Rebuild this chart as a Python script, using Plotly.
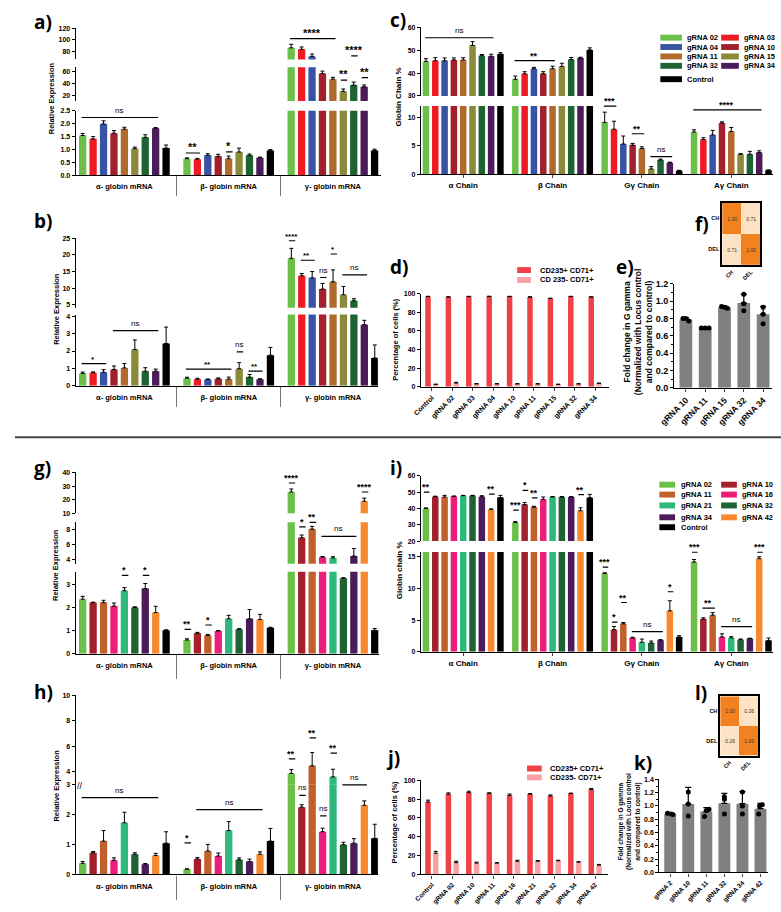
import plotly.graph_objects as go

W, H = 781, 912
FONT = "Liberation Sans"

# ---------------- data ----------------
set1_names = ["gRNA 02", "gRNA 03", "gRNA 04", "gRNA 10", "gRNA 11", "gRNA 15", "gRNA 32", "gRNA 34", "Control"]
set1_colors = ["#6cc04a", "#ed1c24", "#3953a4", "#a3202d", "#b06a2c", "#8a8a3a", "#1e6432", "#4b1b5a", "#000000"]
set2_names = ["gRNA 02", "gRNA 10", "gRNA 11", "gRNA 16", "gRNA 21", "gRNA 32", "gRNA 34", "gRNA 42", "Control"]
set2_colors = ["#6cc04a", "#a3202d", "#c0612b", "#ec1e7a", "#2db87c", "#1e6432", "#4b1b5a", "#f7892e", "#000000"]
mrna_labels = ["α- globin mRNA", "β- globin mRNA", "γ- globin mRNA"]
chain_labels = ["α Chain", "β Chain", "Gγ Chain", "Aγ Chain"]

# a) relative expression (rows: alpha, beta, gamma)
a_alpha = [1.54, 1.41, 1.99, 1.63, 1.79, 1.03, 1.47, 1.82, 1.05]
a_beta = [0.64, 0.62, 0.77, 0.73, 0.64, 0.90, 0.77, 0.68, 0.96]
a_gamma = [86.5, 84, 72, 56.7, 47.4, 27.1, 37.5, 34.8, 0.96]
a_alpha_err = [0.08, 0.09, 0.12, 0.10, 0.07, 0.06, 0.10, 0.03, 0.12]
a_beta_err = [0.03, 0.03, 0.06, 0.08, 0.10, 0.15, 0.05, 0.02, 0.03]
a_gamma_err = [6, 4, 4, 4, 3, 4, 5, 3, 0.05]

# b)
b_alpha = [0.71, 0.75, 0.78, 0.94, 1.03, 2.09, 0.84, 0.84, 2.43]
b_beta = [0.44, 0.38, 0.36, 0.40, 0.38, 0.98, 0.50, 0.38, 1.76]
b_gamma = [19.0, 13.7, 13.1, 9.7, 11.9, 8.0, 6.2, 3.52, 1.6]
b_alpha_err = [0.08, 0.05, 0.15, 0.20, 0.25, 0.55, 0.20, 0.12, 0.95]
b_beta_err = [0.05, 0.05, 0.03, 0.05, 0.12, 0.35, 0.15, 0.02, 0.45]
b_gamma_err = [3.0, 0.7, 1.9, 1.7, 3.6, 2.5, 0.6, 0.25, 0.75]

# c) globin chain %
c_alpha = [45.1, 45.4, 45.4, 45.7, 45.7, 52.1, 47.6, 47.3, 48.3]
c_beta = [37.3, 39.7, 41.9, 39.7, 41.9, 42.9, 45.9, 46.6, 50.1]
c_ggamma = [9.1, 7.9, 5.3, 5.1, 4.5, 0.92, 2.49, 2.0, 0.58]
c_agamma = [7.4, 6.1, 6.9, 9.0, 7.5, 3.5, 3.5, 3.8, 0.69]
c_alpha_err = [1.2, 1.3, 1.2, 0.9, 1.0, 1.6, 0.5, 0.9, 0.6]
c_beta_err = [1.4, 0.9, 0.6, 0.9, 1.1, 1.4, 0.9, 0.3, 0.9]
c_ggamma_err = [1.8, 1.4, 1.4, 0.3, 0.3, 0.4, 0.15, 0.1, 0.1]
c_agamma_err = [0.4, 0.3, 0.8, 0.2, 0.7, 0.1, 0.5, 0.3, 0.05]

# d) flow cytometry
d_names = ["Control", "gRNA 02", "gRNA 03", "gRNA 04", "gRNA 10", "gRNA 11", "gRNA 15", "gRNA 32", "gRNA 34"]
d_pos = [97, 96.5, 97, 97, 97, 96.5, 95, 97, 96.5]
d_pos_err = [0.3, 0.3, 0.3, 0.4, 0.3, 0.3, 0.3, 0.3, 0.3]
d_neg = [2.5, 4, 3, 3, 3, 3, 2.5, 3, 3.5]
d_neg_err = [0.3, 0.8, 0.5, 0.4, 0.4, 0.3, 0.3, 0.3, 0.5]

# e) fold change G gamma
e_names = ["gRNA 10", "gRNA 11", "gRNA 15", "gRNA 32", "gRNA 34"]
e_vals = [0.79, 0.685, 0.93, 0.98, 0.85]
e_err = [0.02, 0.005, 0.015, 0.10, 0.09]
e_dots = [[0.80, 0.77, 0.80], [0.69, 0.69, 0.69], [0.94, 0.92, 0.93], [1.08, 0.97, 0.89], [0.93, 0.85, 0.74]]
e_jitter = [[-0.15, 0.15, 0.0], [-0.2, 0.0, 0.2], [-0.15, 0.15, 0.0], [0, 0, 0], [0, 0, 0]]

# f) / l) correlation
hm_labels = ["CH", "DEL"]
f_corr = [[1.00, 0.71], [0.71, 1.00]]
l_corr = [[1.00, 0.26], [0.26, 1.00]]

# g)
g_alpha = [2.37, 2.22, 2.22, 2.07, 2.74, 2.01, 2.83, 1.79, 1.02]
g_beta = [0.60, 0.89, 0.80, 0.99, 1.52, 1.06, 1.52, 1.49, 1.13]
g_gamma = [25.7, 6.95, 8.1, 4.35, 4.26, 3.28, 4.5, 18.9, 1.02]
g_alpha_err = [0.12, 0.02, 0.10, 0.13, 0.13, 0.03, 0.22, 0.27, 0.02]
g_beta_err = [0.05, 0.04, 0.04, 0.02, 0.15, 0.03, 0.40, 0.22, 0.02]
g_gamma_err = [2.2, 0.35, 0.35, 0.10, 0.15, 0.02, 1.0, 2.3, 0.08]

# h)
h_alpha = [0.37, 0.72, 1.11, 0.47, 1.72, 0.67, 0.34, 0.63, 1.04]
h_beta = [0.175, 0.51, 0.78, 0.61, 1.46, 0.49, 0.43, 0.67, 1.11]
h_gamma = [3.86, 2.24, 4.46, 1.42, 3.59, 0.99, 1.04, 2.30, 1.20]
h_alpha_err = [0.06, 0.04, 0.35, 0.08, 0.35, 0.05, 0.02, 0.07, 0.38]
h_beta_err = [0.01, 0.05, 0.22, 0.10, 0.30, 0.06, 0.08, 0.08, 0.42]
h_gamma_err = [0.30, 0.08, 1.05, 0.12, 0.60, 0.08, 0.15, 0.15, 0.47]

# i)
i_alpha = [40.0, 47.2, 47.0, 47.4, 47.8, 47.8, 47.2, 39.4, 46.7]
i_beta = [31.4, 42.4, 40.8, 45.5, 47.0, 47.0, 47.0, 38.6, 46.6]
i_ggamma = [12.4, 3.5, 4.44, 2.2, 1.52, 1.41, 1.83, 6.48, 2.35]
i_agamma = [14.2, 5.18, 5.8, 2.35, 2.2, 1.93, 2.1, 14.74, 1.78]
i_alpha_err = [0.3, 0.3, 1.0, 0.2, 0.2, 0.2, 0.6, 0.3, 1.3]
i_beta_err = [0.5, 1.2, 0.5, 1.5, 0.3, 0.3, 0.3, 1.8, 2.0]
i_ggamma_err = [0.1, 0.5, 0.2, 0.1, 0.5, 0.3, 0.1, 1.6, 0.2]
i_agamma_err = [0.4, 0.2, 0.4, 0.5, 0.2, 0.1, 0.05, 0.3, 0.4]

# j)
j_names = ["Control", "gRNA 02", "gRNA 10", "gRNA 11", "gRNA 16", "gRNA 21", "gRNA 32", "gRNA 34", "gRNA 42"]
j_pos = [77, 85.5, 87, 86.3, 84, 85.5, 83.5, 86, 90.5]
j_pos_err = [2, 1.2, 1.5, 0.5, 1.5, 0.4, 1, 0.5, 0.8]
j_neg = [22.5, 12.5, 12, 12, 14, 14, 14.5, 13, 9.8]
j_neg_err = [2, 1.5, 1, 0.5, 1, 0.8, 0.5, 0.5, 0.8]

# k)
k_names = ["gRNA 2", "gRNA 10", "gRNA 11", "gRNA 32", "gRNA 34", "gRNA 42"]
k_vals = [0.88, 1.03, 0.915, 1.04, 1.035, 0.96]
k_err = [0.01, 0.25, 0.06, 0.15, 0.18, 0.08]
k_dots = [[0.89, 0.88, 0.87], [1.21, 0.85, 1.03], [0.95, 0.93, 0.84], [1.14, 1.10, 0.88], [1.21, 1.00, 0.88], [1.02, 1.00, 0.88]]
k_jitter = [[-0.15, 0.05, 0.15], [0, 0, 0], [0.15, 0.0, -0.1], [0, 0.0, 0], [0, 0, 0], [0.1, -0.05, -0.1]]

# significance marks: (segment, group, first bar, last bar, line value, label)
sig_a = [("bot", 0, 0, 7, 2.24, "ns"), ("bot", 1, 0, 1, 0.86, "**"), ("bot", 1, 4, 4, 0.90, "*"),
         ("top", 2, 0, 4, 102, "****"), ("top", 2, 6, 6, 73, "****"), ("mid", 2, 5, 5, 45.8, "**"),
         ("mid", 2, 7, 7, 50, "**")]
sig_b = [("bot", 0, 0, 2, 1.28, "*"), ("bot", 0, 3, 7, 3.18, "ns"), ("bot", 1, 0, 4, 0.96, "**"),
         ("bot", 1, 5, 5, 1.95, "ns"), ("bot", 1, 6, 7, 0.84, "**"), ("top", 2, 0, 0, 24.3, "****"),
         ("top", 2, 1, 2, 18.4, "**"), ("top", 2, 3, 3, 13.2, "ns"), ("top", 2, 4, 4, 20.3, "*"),
         ("top", 2, 5, 7, 14.0, "ns")]
sig_c = [("top", 0, 0, 7, 55.4, "ns"), ("top", 1, 0, 4, 45.4, "**"), ("bot", 2, 0, 1, 11.95, "***"),
         ("bot", 2, 3, 4, 7.1, "**"), ("bot", 2, 5, 7, 3.06, "ns"), ("bot", 3, 0, 7, 11.3, "****")]
sig_g = [("bot", 0, 4, 4, 3.40, "*"), ("bot", 0, 6, 6, 3.40, "*"), ("bot", 1, 0, 0, 1.06, "**"),
         ("bot", 1, 2, 2, 1.25, "*"), ("top", 2, 0, 0, 32.3, "****"), ("mid", 2, 1, 1, 8.4, "*"),
         ("mid", 2, 2, 2, 8.98, "**"), ("mid", 2, 3, 6, 7.12, "ns"), ("top", 2, 7, 7, 25.7, "****")]
sig_h = [("bot", 0, 0, 7, 2.56, "ns"), ("bot", 1, 0, 0, 1.05, "*"), ("bot", 1, 1, 7, 2.16, "ns"),
         ("top", 2, 0, 0, 5.01, "**"), ("bot", 2, 1, 1, 2.63, "ns"), ("top", 2, 2, 2, 6.65, "**"),
         ("bot", 2, 3, 3, 1.95, "ns"), ("top", 2, 4, 4, 5.45, "**"), ("bot", 2, 5, 7, 2.98, "ns")]
sig_i = [("top", 0, 0, 0, 50, "**"), ("top", 0, 7, 7, 48.8, "**"), ("top", 1, 0, 0, 39, "***"),
         ("top", 1, 1, 1, 51, "*"), ("top", 1, 2, 2, 46.4, "**"), ("top", 1, 7, 7, 48.4, "**"),
         ("bot", 2, 0, 0, 13.4, "***"), ("bot", 2, 1, 1, 4.7, "*"), ("bot", 2, 2, 2, 7.8, "**"),
         ("bot", 2, 3, 6, 3.19, "ns"), ("bot", 2, 7, 7, 9.5, "*"), ("bot", 3, 0, 0, 15.75, "***"),
         ("bot", 3, 1, 2, 6.9, "**"), ("bot", 3, 3, 6, 4.0, "ns"), ("bot", 3, 7, 7, 15.75, "***")]

mrna_offsets = [0, 10, 20]
chain_offsets = [0, 9.6, 19.2, 28.8]

# ---------------- helpers ----------------
layout = dict(width=W, height=H, margin=dict(l=0, r=0, t=0, b=0), paper_bgcolor="white",
              plot_bgcolor="white", barmode="overlay", showlegend=False,
              font=dict(family=FONT, color="black"))
annotations, shapes, traces = [], [], []
n_axes = {"x": 0, "y": 0}
TICKFONT = dict(family=FONT, size=7, color="black", weight="bold")


def fx(l, r):
    return [l / W, r / W]


def fy(t, b):
    return [1 - b / H, 1 - t / H]


def new_axis(kind, **kw):
    n_axes[kind] += 1
    n = n_axes[kind]
    suffix = "" if n == 1 else str(n)
    base = dict(showgrid=False, zeroline=False, fixedrange=True)
    base.update(kw)
    layout[kind + "axis" + suffix] = base
    return kind + suffix


def ax_key(ref):
    return ref[0] + "axis" + ref[1:]


def y_axis(xref, dom, rng, tickvals, fmt=None, size=7, **kw):
    d = dict(domain=fy(*dom), range=rng, tickvals=tickvals, showline=True, linecolor="black",
             linewidth=1.3, ticks="outside", ticklen=3, tickwidth=1.2, tickcolor="black",
             tickfont=dict(TICKFONT, size=size), anchor=xref)
    if fmt:
        d["tickformat"] = fmt
    d.update(kw)
    return new_axis("y", **d)


def add_bars(xref, yrefs, groups, errs, offsets, colors, width=0.7):
    for i, col in enumerate(colors):
        xs = [o + i for o in offsets]
        ys = [g[i] for g in groups]
        es = [e[i] for e in errs]
        for yref in yrefs:
            traces.append(go.Bar(
                x=xs, y=ys, width=width, marker=dict(color=col, line=dict(width=0)),
                error_y=dict(type="data", array=es, arrayminus=[0] * len(es), symmetric=False,
                             color="black", thickness=1, width=2),
                xaxis=xref, yaxis=yref, hoverinfo="skip"))


def add_sig(xref, yrefs, offsets, marks, star_size=10):
    for seg, g, i0, i1, yv, lab in marks:
        yref = yrefs[seg]
        pad = 0.38 if i0 == i1 else 0.25
        x0 = offsets[g] + i0 - pad
        x1 = offsets[g] + i1 + pad
        annotations.append(dict(xref=xref, yref=yref, axref=xref, ayref=yref, x=x1, y=yv, ax=x0, ay=yv,
                                text="", showarrow=True, arrowhead=0, arrowwidth=1.2,
                                arrowcolor="black", standoff=0, startstandoff=0))
        is_ns = lab == "ns"
        annotations.append(dict(xref=xref, yref=yref, x=(x0 + x1) / 2, y=yv, text=lab, showarrow=False,
                                yanchor="bottom", yshift=1 if is_ns else -2,
                                font=dict(family=FONT, size=8 if is_ns else star_size, color="black",
                                          weight="normal" if is_ns else "bold")))


def mrna_panel(xdom, xrng, segs, groups, errs, colors, sep_len, marks, star_size):
    xref = new_axis("x", domain=fx(*xdom), range=xrng, showline=True, linecolor="black", linewidth=1.3,
                    tickvals=[o + 4 for o in mrna_offsets], ticktext=mrna_labels, ticks="",
                    ticklabelstandoff=4, tickfont=dict(TICKFONT, size=7.5),
                    minor=dict(tickvals=[9, 19], ticks="outside", ticklen=sep_len, tickwidth=1.2,
                               tickcolor="#777777"))
    yrefs = {}
    for name, dom, rng, tv, fmt in segs:
        yrefs[name] = y_axis(xref, dom, rng, tv, fmt)
    layout[ax_key(xref)]["anchor"] = yrefs["bot"]
    add_bars(xref, list(yrefs.values()), groups, errs, mrna_offsets, colors)
    add_sig(xref, yrefs, mrna_offsets, marks, star_size)


def chain_panel(xdom, xrng, segs, groups, errs, colors, marks, star_size):
    xref = new_axis("x", domain=fx(*xdom), range=xrng, showline=True, linecolor="black", linewidth=1.3,
                    tickvals=[o + 4 for o in chain_offsets], ticktext=chain_labels, ticks="outside",
                    ticklen=3, tickwidth=1.2, tickfont=dict(TICKFONT, size=8))
    yrefs = {}
    for name, dom, rng, tv, fmt in segs:
        yrefs[name] = y_axis(xref, dom, rng, tv, fmt)
    layout[ax_key(xref)]["anchor"] = yrefs["bot"]
    add_bars(xref, list(yrefs.values()), groups, errs, chain_offsets, colors)
    add_sig(xref, yrefs, chain_offsets, marks, star_size)


def flow_panel(xdom, ydom, xrng, names, pos, pos_err, neg, neg_err, x_size=7):
    xref = new_axis("x", domain=fx(*xdom), range=xrng, showline=True, linecolor="black", linewidth=1.3,
                    tickvals=list(range(len(names))), ticktext=names, tickangle=-45, ticks="outside",
                    ticklen=3, tickwidth=1.2, tickfont=dict(TICKFONT, size=x_size))
    yref = y_axis(xref, ydom, [0, 100], [0, 20, 40, 60, 80, 100])
    layout[ax_key(xref)]["anchor"] = yref
    for vals, errs, col, shift in [(pos, pos_err, "#ef4146", -0.19), (neg, neg_err, "#f7a3a5", 0.19)]:
        traces.append(go.Bar(
            x=[i + shift for i in range(len(vals))], y=vals, width=0.27,
            marker=dict(color=col, line=dict(width=0)),
            error_y=dict(type="data", array=errs, arrayminus=[0] * len(errs), symmetric=False,
                         color="black", thickness=1, width=2),
            xaxis=xref, yaxis=yref, hoverinfo="skip"))


def fold_panel(xdom, ydom, xrng, yrng, names, vals, errs, dots, jitter, tick_size, x_size):
    xref = new_axis("x", domain=fx(*xdom), range=xrng, showline=True, linecolor="black", linewidth=1.3,
                    tickvals=list(range(len(names))), ticktext=names, tickangle=-45, ticks="outside",
                    ticklen=3, tickwidth=1.2, tickfont=dict(TICKFONT, size=x_size))
    tv = [round(v * 0.2, 1) for v in range(int(round(yrng[1] / 0.2)) + 1)]
    yref = y_axis(xref, ydom, yrng, tv, ".1f", size=tick_size,
                  minor=dict(dtick=0.1, ticks="outside", ticklen=2, tickwidth=1, tickcolor="black"))
    layout[ax_key(xref)]["anchor"] = yref
    traces.append(go.Bar(
        x=list(range(len(vals))), y=vals, width=0.66, marker=dict(color="#808080", line=dict(width=0)),
        error_y=dict(type="data", array=errs, arrayminus=[0] * len(errs), symmetric=False,
                     color="black", thickness=1.2, width=3),
        xaxis=xref, yaxis=yref, hoverinfo="skip"))
    dx, dy = [], []
    for i, (reps, jit) in enumerate(zip(dots, jitter)):
        for v, j in zip(reps, jit):
            dx.append(i + j)
            dy.append(v)
    traces.append(go.Scatter(x=dx, y=dy, mode="markers", marker=dict(color="black", size=5),
                             xaxis=xref, yaxis=yref, hoverinfo="skip", cliponaxis=False))


def heat_panel(xdom, ydom, z, cb_xdom, cb_ticks):
    hfont = dict(family=FONT, size=5.5, color="black", weight="bold")
    xref = new_axis("x", domain=fx(*xdom), showline=True, mirror=True, linecolor="black", linewidth=1.5,
                    ticks="", tickangle=-45, tickfont=hfont)
    yref = new_axis("y", domain=fy(*ydom), showline=True, mirror=True, linecolor="black", linewidth=1.5,
                    ticks="", autorange="reversed", tickfont=hfont, anchor=xref)
    layout[ax_key(xref)]["anchor"] = yref
    zmin = min(min(r) for r in z)
    traces.append(go.Heatmap(x=hm_labels, y=hm_labels, z=z, zmin=zmin, zmax=1.0,
                             colorscale=[[0, "#fde2c4"], [1, "#f2821f"]], showscale=False,
                             texttemplate="%{z:.2f}", textfont=dict(family=FONT, size=5, color="#333333"),
                             xaxis=xref, yaxis=yref, hoverinfo="skip"))
    cx = new_axis("x", domain=fx(*cb_xdom), range=[0, 1], showline=True, mirror=True, linecolor="black",
                  linewidth=1, showticklabels=False, ticks="")
    cy = new_axis("y", domain=fy(*ydom), range=[zmin, 1.0], side="right", showline=True, mirror=True,
                  linecolor="black", linewidth=1, ticks="outside", ticklen=2, tickwidth=0.8,
                  tickcolor="#555555", tickvals=cb_ticks, tickformat=".1f",
                  tickfont=dict(family=FONT, size=5, color="#444444"), anchor=cx)
    layout[ax_key(cx)]["anchor"] = cy


def panel_label(text, x, y):
    annotations.append(dict(xref="paper", yref="paper", x=x / W, y=1 - y / H, xanchor="left", yanchor="top",
                            text=text, showarrow=False,
                            font=dict(family="Open Sans", size=19, weight="bold", color="black")))


def y_title(text, x, y, size=7.5):
    annotations.append(dict(xref="paper", yref="paper", x=x / W, y=1 - y / H, xanchor="center",
                            yanchor="middle", text=text, textangle=-90, showarrow=False,
                            font=dict(family=FONT, size=size, weight="bold", color="black")))


def legend_block(names, colors, cols, rows_y, sw_h=6, size=7.5):
    for idxs, sl, sr, tx in cols:
        for r, i in enumerate(idxs):
            yc = rows_y[r]
            shapes.append(dict(type="rect", xref="paper", yref="paper", x0=sl / W, x1=sr / W,
                               y0=1 - (yc + sw_h / 2) / H, y1=1 - (yc - sw_h / 2) / H,
                               fillcolor=colors[i], line=dict(width=0)))
            annotations.append(dict(xref="paper", yref="paper", x=tx / W, y=1 - yc / H, xanchor="left",
                                    yanchor="middle", text=names[i], showarrow=False,
                                    font=dict(family=FONT, size=size, weight="bold", color="black")))


# ---------------- panels ----------------
# a)
mrna_panel((62, 373), [-0.66, 28.6],
           [("bot", (107, 172), [0, 2.5], [0, 0.5, 1.0, 1.5, 2.0, 2.5], ".1f"),
            ("mid", (63, 97), [11.3, 67], [20, 40, 60], None),
            ("top", (23, 55), [67, 120.5], [80, 100, 120], None)],
           [a_alpha, a_beta, a_gamma], [a_alpha_err, a_beta_err, a_gamma_err], set1_colors, 20, sig_a, 11)
# b)
mrna_panel((62, 370), [-0.66, 28.3],
           [("bot", (313, 385), [0, 4.1], [0, 1, 2, 3, 4], None),
            ("top", (236, 306), [4.1, 25], [5, 10, 15, 20, 25], None)],
           [b_alpha, b_beta, b_gamma], [b_alpha_err, b_beta_err, b_gamma_err], set1_colors, 20, sig_b, 8)
# c)
chain_panel((414, 773), [-0.53, 37.3],
            [("bot", (102, 171), [0, 12], [0, 5, 10], None),
             ("top", (22, 92), [30, 60.2], [30, 40, 50, 60], None)],
            [c_alpha, c_beta, c_ggamma, c_agamma], [c_alpha_err, c_beta_err, c_ggamma_err, c_agamma_err],
            set1_colors, sig_c, 9)
# d)
flow_panel((414, 606), (292, 386), [-0.53, 8.7], d_names, d_pos, d_pos_err, d_neg, d_neg_err)
# e)
fold_panel((672, 772), (282, 387), [-0.61, 4.47], [0, 1.2], e_names, e_vals, e_err, e_dots, e_jitter, 9, 8.5)
# f)
heat_panel((721, 760), (200, 263), f_corr, (764, 769), [0.8, 0.9, 1.0])
# g)
mrna_panel((62, 371), [-0.66, 28.4],
           [("bot", (573, 656), [0, 3.56], [0, 1, 2, 3], None),
            ("mid", (523, 565), [3.47, 9.0], [4, 6, 8], None),
            ("top", (472, 514), [10, 40.5], [10, 20, 30, 40], None)],
           [g_alpha, g_beta, g_gamma], [g_alpha_err, g_beta_err, g_gamma_err], set2_colors, 24, sig_g, 9)
# h)
mrna_panel((62, 370), [-0.66, 28.3],
           [("bot", (788, 879), [0, 3], [0, 1, 2, 3], None),
            ("top", (698, 788), [3, 10], [4, 6, 8, 10], None)],
           [h_alpha, h_beta, h_gamma], [h_alpha_err, h_beta_err, h_gamma_err], set2_colors, 24, sig_h, 9)
# i)
chain_panel((414, 773), [-0.53, 37.3],
            [("bot", (553, 654), [0, 15.8], [0, 5, 10, 15], None),
             ("top", (476, 542), [20, 60], [20, 30, 40, 50, 60], None)],
            [i_alpha, i_beta, i_ggamma, i_agamma], [i_alpha_err, i_beta_err, i_ggamma_err, i_agamma_err],
            set2_colors, sig_i, 9)
# j)
flow_panel((414, 605), (784, 879), [-0.53, 8.65], j_names, j_pos, j_pos_err, j_neg, j_neg_err, 6.5)
# k)
fold_panel((657, 768), (783, 877), [-0.6, 5.43], [0, 1.4], k_names, k_vals, k_err, k_dots, k_jitter, 7, 6.5)
# l)
heat_panel((719, 758), (699, 759), l_corr, (763, 768), [0.4, 0.6, 0.8, 1.0])

# legends
legend_block(set1_names, set1_colors,
             [([0, 2, 4, 6, 8], 658, 680, 683), ([1, 3, 5, 7], 720, 738, 741)],
             [33, 42.5, 52, 61.5, 75])
legend_block(set2_names, set2_colors,
             [([0, 2, 4, 6, 8], 657, 673, 677), ([1, 3, 5, 7], 720, 736, 739)],
             [485, 495, 506, 518, 528])
legend_block(["CD235+ CD71+", "CD 235- CD71+"], ["#ef4146", "#f7a3a5"],
             [([0, 1], 512, 526, 533)], [268, 278])
legend_block(["CD235+ CD71+", "CD235- CD71+"], ["#ef4146", "#f7a3a5"],
             [([0, 1], 522, 537, 543)], [772, 781])

# axis titles
y_title("Relative Expression", 38, 94)
y_title("Relative Expression", 42, 307)
y_title("Globin Chain %", 392, 93, 8)
y_title("Percentage of cells (%)", 388, 338)
y_title("Fold change in G gamma<br>(Normalized with Locus control<br>and compared to control)", 636, 330, 8.5)
y_title("Relative Expression", 42, 566)
y_title("Relative Expression", 42, 789)
y_title("Globin chain %", 392, 571, 8)
y_title("Percentage of cells (%)", 387, 826)
y_title("Fold change in G gamma<br>(Normalized with Locus control<br>and compared to control)", 627, 825, 6.5)

# panel letters
for txt, x, y in [("a)", 17, 2), ("b)", 17, 203), ("c)", 380, 0), ("d)", 380, 250), ("e)", 611, 250),
                  ("f)", 691, 206), ("g)", 17, 453), ("h)", 17, 679), ("i)", 380, 453), ("j)", 376, 746),
                  ("k)", 629, 751), ("l)", 691, 680)]:
    panel_label(txt, x, y)

# axis break mark in h) and divider between the two halves
annotations.append(dict(xref="paper", yref="paper", x=62 / W, y=1 - 790 / H, yanchor="middle",
                        text="//", showarrow=False, font=dict(family=FONT, size=9, color="black"),
                        bgcolor="white", borderpad=0))
shapes.append(dict(type="line", xref="paper", yref="paper", x0=0, x1=1, y0=1 - 437 / H, y1=1 - 437 / H,
                   line=dict(color="#444444", width=2)))

layout["annotations"] = annotations
layout["shapes"] = shapes

fig = go.Figure(data=traces, layout=layout)
# drop the default page margin so the figure sits at the window's top-left corner
fig.write_html("out.html", config={"displayModeBar": False},
               post_script="document.body.style.margin='0px';")
